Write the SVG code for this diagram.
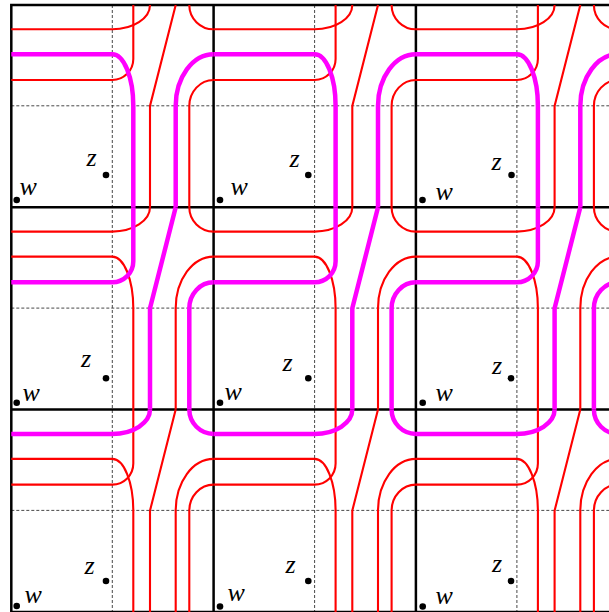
<svg xmlns="http://www.w3.org/2000/svg" xmlns:xlink="http://www.w3.org/1999/xlink" width="609" height="612" viewBox="0 0 609 612">
<style>
.grid{stroke:#000;stroke-width:2.5;fill:none;stroke-linecap:square}
.dash{stroke:#333;stroke-width:0.9;stroke-dasharray:3 2;fill:none}
.red{stroke:#ff0000;stroke-width:2.1;fill:none}
.mag{stroke:#ff00ff;stroke-width:4.5;fill:none}
.dot{fill:#000}
.lbl{font-family:"Liberation Serif","DejaVu Serif",serif;font-style:italic;font-size:26px;fill:#000}
</style>
<defs>
<path id="s1" d="M0,24.3 H101 A37.7,24.3 0 0 0 138.7,0"/>
<path id="s2" d="M0,49.3 H101 A21,51.7 0 0 1 122,101 V202.3"/>
<path id="s3" d="M0,75 H101 A21,21 0 0 0 122,54 V0"/>
<path id="s4" d="M164.4,0 L138.7,101 V202.3"/>
<path id="s5" d="M178,0 A24.3,24.3 0 0 0 202.3,24.3"/>
<path id="s6" d="M202.3,49.3 A37.9,51.7 0 0 0 164.4,101 V202.3"/>
<path id="s7" d="M202.3,75 A24.3,26 0 0 0 178,101 V202.3"/>
</defs>
<rect width="609" height="612" fill="#fff"/>
<g id="grid">
<path class="dash" d="M112.3,5 V612 M314.6,5 V612 M516.9,5 V612 M11.3,105.8 H609 M11.3,308.1 H609 M11.3,510.4 H609"/>
<path class="grid" d="M11.3,5 V611.9 M213.6,5 V611.9 M415.9,5 V611.9 M11.3,5 H610 M11.3,207.3 H610 M11.3,409.6 H610 M11.3,611.9 H610"/>
</g>
<g id="connectors">
<g id="row0-red">
<g transform="translate(11.3,5)"><use href="#s1" class="red"/><use href="#s3" class="red"/><use href="#s4" class="red"/><use href="#s5" class="red"/><use href="#s7" class="red"/></g>
<g transform="translate(213.6,5)"><use href="#s1" class="red"/><use href="#s3" class="red"/><use href="#s4" class="red"/><use href="#s5" class="red"/><use href="#s7" class="red"/></g>
<g transform="translate(415.9,5)"><use href="#s1" class="red"/><use href="#s3" class="red"/><use href="#s4" class="red"/><use href="#s5" class="red"/><use href="#s7" class="red"/></g>
</g>
<g id="row1-red">
<g transform="translate(11.3,207.3)"><use href="#s1" class="red"/><use href="#s2" class="red"/><use href="#s5" class="red"/><use href="#s6" class="red"/></g>
<g transform="translate(213.6,207.3)"><use href="#s1" class="red"/><use href="#s2" class="red"/><use href="#s5" class="red"/><use href="#s6" class="red"/></g>
<g transform="translate(415.9,207.3)"><use href="#s1" class="red"/><use href="#s2" class="red"/><use href="#s5" class="red"/><use href="#s6" class="red"/></g>
</g>
<g id="row2-red">
<g transform="translate(11.3,409.6)"><use href="#s2" class="red"/><use href="#s3" class="red"/><use href="#s4" class="red"/><use href="#s6" class="red"/><use href="#s7" class="red"/></g>
<g transform="translate(213.6,409.6)"><use href="#s2" class="red"/><use href="#s3" class="red"/><use href="#s4" class="red"/><use href="#s6" class="red"/><use href="#s7" class="red"/></g>
<g transform="translate(415.9,409.6)"><use href="#s2" class="red"/><use href="#s3" class="red"/><use href="#s4" class="red"/><use href="#s6" class="red"/><use href="#s7" class="red"/></g>
</g>
<g id="loop-magenta">
<g transform="translate(11.3,5)"><use href="#s2" class="mag"/><use href="#s6" class="mag"/></g>
<g transform="translate(213.6,5)"><use href="#s2" class="mag"/><use href="#s6" class="mag"/></g>
<g transform="translate(415.9,5)"><use href="#s2" class="mag"/><use href="#s6" class="mag"/></g>
<g transform="translate(11.3,207.3)"><use href="#s3" class="mag"/><use href="#s4" class="mag"/><use href="#s7" class="mag"/></g>
<g transform="translate(213.6,207.3)"><use href="#s3" class="mag"/><use href="#s4" class="mag"/><use href="#s7" class="mag"/></g>
<g transform="translate(415.9,207.3)"><use href="#s3" class="mag"/><use href="#s4" class="mag"/><use href="#s7" class="mag"/></g>
<g transform="translate(11.3,409.6)"><use href="#s1" class="mag"/><use href="#s5" class="mag"/></g>
<g transform="translate(213.6,409.6)"><use href="#s1" class="mag"/><use href="#s5" class="mag"/></g>
<g transform="translate(415.9,409.6)"><use href="#s1" class="mag"/><use href="#s5" class="mag"/></g>
</g>
</g>
<g id="cell-r0c0"><circle class="dot" cx="16.7" cy="200" r="3.3"/><text class="lbl" x="19.5" y="194.5">w</text><circle class="dot" cx="106" cy="175" r="3.3"/><text class="lbl" x="86.5" y="165.5">z</text></g>
<g id="cell-r0c1"><circle class="dot" cx="220" cy="200" r="3.3"/><text class="lbl" x="230.5" y="194.5">w</text><circle class="dot" cx="308.3" cy="175" r="3.3"/><text class="lbl" x="289.5" y="166.5">z</text></g>
<g id="cell-r0c2"><circle class="dot" cx="422.5" cy="200" r="3.3"/><text class="lbl" x="435.5" y="199.5">w</text><circle class="dot" cx="511.5" cy="175" r="3.3"/><text class="lbl" x="491.5" y="169.5">z</text></g>
<g id="cell-r1c0"><circle class="dot" cx="16.7" cy="402.7" r="3.3"/><text class="lbl" x="22.5" y="401">w</text><circle class="dot" cx="106" cy="378.3" r="3.3"/><text class="lbl" x="81" y="367">z</text></g>
<g id="cell-r1c1"><circle class="dot" cx="220" cy="402.7" r="3.3"/><text class="lbl" x="224.5" y="400">w</text><circle class="dot" cx="308.3" cy="378.3" r="3.3"/><text class="lbl" x="282.5" y="370.5">z</text></g>
<g id="cell-r1c2"><circle class="dot" cx="422.7" cy="402.7" r="3.3"/><text class="lbl" x="435.5" y="401">w</text><circle class="dot" cx="511" cy="378.3" r="3.3"/><text class="lbl" x="492" y="373.5">z</text></g>
<g id="cell-r2c0"><circle class="dot" cx="16.7" cy="606" r="3.3"/><text class="lbl" x="24.5" y="602.5">w</text><circle class="dot" cx="106" cy="581" r="3.3"/><text class="lbl" x="84.5" y="573.5">z</text></g>
<g id="cell-r2c1"><circle class="dot" cx="220" cy="606.5" r="3.3"/><text class="lbl" x="227.5" y="601">w</text><circle class="dot" cx="308.3" cy="581" r="3.3"/><text class="lbl" x="285.5" y="572.5">z</text></g>
<g id="cell-r2c2"><circle class="dot" cx="422.7" cy="606.5" r="3.3"/><text class="lbl" x="435.5" y="604">w</text><circle class="dot" cx="511" cy="581" r="3.3"/><text class="lbl" x="492" y="572">z</text></g>
</svg>
